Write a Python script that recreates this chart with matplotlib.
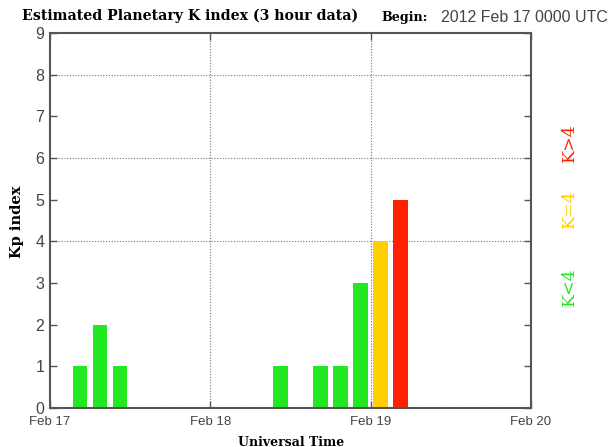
import matplotlib
matplotlib.use("Agg")
import matplotlib.pyplot as plt
import matplotlib.dates as mdates
from datetime import datetime, timedelta

# ---- data ----
start = datetime(2012, 2, 17, 0, 0)
kp_values = [0, 1, 2, 1, 0, 0, 0, 0,
             0, 0, 0, 1, 0, 1, 1, 3,
             4, 5]
day_ticks = [datetime(2012, 2, 17), datetime(2012, 2, 18),
             datetime(2012, 2, 19), datetime(2012, 2, 20)]
day_labels = ["Feb 17", "Feb 18", "Feb 19", "Feb 20"]
y_ticks = list(range(0, 10))

GREEN, YELLOW, RED = "#22e822", "#ffd000", "#ff2200"

def kcolor(v):
    if v < 4:
        return GREEN
    if v == 4:
        return YELLOW
    return RED

times = [start + timedelta(hours=3 * i + 1.5) for i in range(len(kp_values))]
xs = mdates.date2num(times)
colors = [kcolor(v) for v in kp_values]

fig = plt.figure(figsize=(6.08, 4.47), dpi=100)
ax = fig.add_axes([0.0822, 0.0872, 0.873 - 0.0822, (1 - 33 / 447) - 0.0872])

bar_w = 3 / 24 * 0.73
ax.bar(xs, kp_values, width=bar_w, color=colors, zorder=2, linewidth=0)

x0 = mdates.date2num(day_ticks[0])
x1 = mdates.date2num(day_ticks[-1])
ax.set_xlim(x0, x1)
ax.set_ylim(0, 9)

# grid lines
for d in day_ticks[1:-1]:
    ax.axvline(mdates.date2num(d), color="#777777", linestyle=(0, (1, 1.5)), linewidth=0.8, zorder=1)
for yv in [4, 6, 8]:
    ax.axhline(yv, color="#777777", linestyle=(0, (1, 1.5)), linewidth=0.8, zorder=1)

ax.set_xticks(mdates.date2num(day_ticks))
ax.set_xticklabels(day_labels, fontfamily="Liberation Sans", fontsize=9.5, color="#444444")
ax.set_yticks(y_ticks)
ax.set_yticklabels([str(v) for v in y_ticks], fontfamily="Liberation Sans", fontsize=11.5, color="#444444")

minor = mdates.date2num([start + timedelta(hours=3 * i + 1.5) for i in range(24)])
ax.set_xticks(minor, minor=True)
ax.tick_params(axis="x", which="minor", direction="in", length=3, color="#e8ffe8",
               width=1, top=False, bottom=True)
ax.tick_params(axis="both", which="major", direction="in", length=5, width=1,
               color="#555555", top=True, right=True)
ax.tick_params(axis="x", which="major", pad=6)
ax.tick_params(axis="y", which="major", pad=4)

for s in ax.spines.values():
    s.set_color("#555555")
    s.set_linewidth(1.5)

fig.text(17 / 608, 1 - 222 / 447, "Kp index", fontfamily="DejaVu Serif", fontweight="bold",
         fontsize=10.5, rotation=90, ha="center", va="center")
fig.text(291 / 608, 1 - 442 / 447, "Universal Time", fontfamily="DejaVu Serif", fontweight="bold",
         fontsize=9, ha="center", va="center")

fig.text(22 / 608, 1 - 16 / 447, "Estimated Planetary K index (3 hour data)", fontfamily="DejaVu Serif",
         fontweight="bold", fontsize=10.2, ha="left", va="center")
fig.text(381 / 608, 1 - 18 / 447, "Begin:", fontfamily="DejaVu Serif", fontweight="bold", fontsize=9.2,
         ha="left", va="center")
fig.text(441 / 608, 1 - 18 / 447, "2012 Feb 17 0000 UTC", fontfamily="Liberation Sans", fontsize=11.5,
         color="#444444", ha="left", va="center")

fig.text(569 / 608, 1 - 143 / 447, "K>4", fontfamily="DejaVu Serif", fontsize=12.5, color=RED,
         rotation=90, ha="center", va="center")
fig.text(569 / 608, 1 - 209 / 447, "K=4", fontfamily="DejaVu Serif", fontsize=12.5, color=YELLOW,
         rotation=90, ha="center", va="center")
fig.text(569 / 608, 1 - 287 / 447, "K<4", fontfamily="DejaVu Serif", fontsize=12.5, color=GREEN,
         rotation=90, ha="center", va="center")

fig.savefig("out.png", dpi=100)
